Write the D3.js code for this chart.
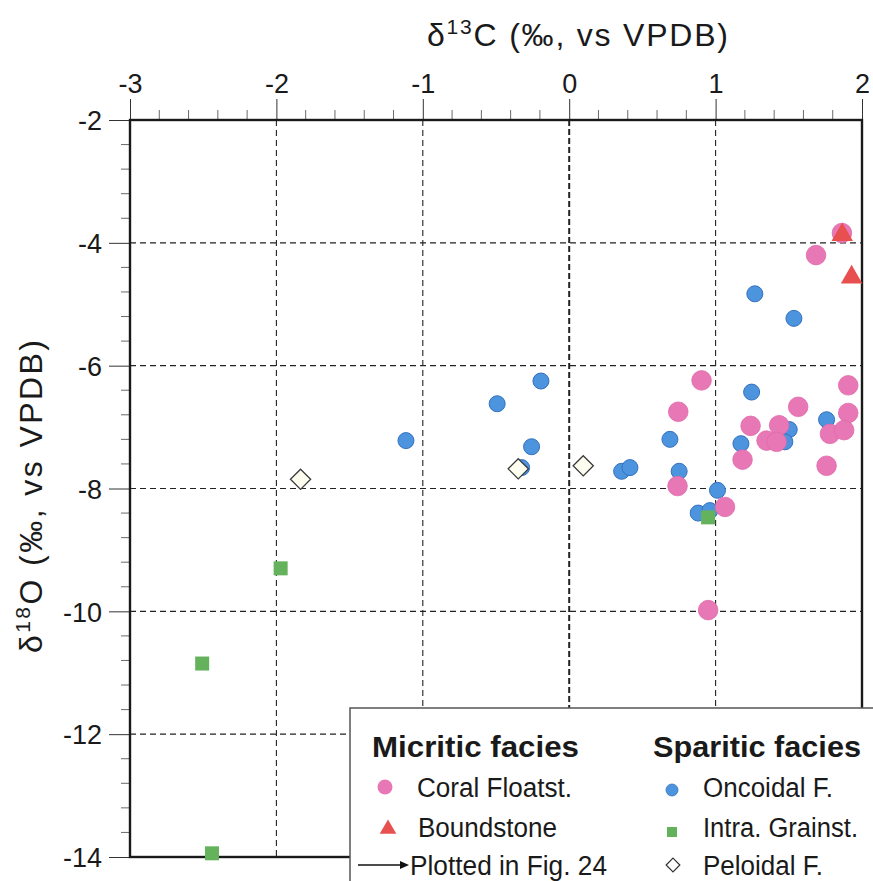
<!DOCTYPE html>
<html><head><meta charset="utf-8">
<script src="https://cdn.jsdelivr.net/npm/d3@7"></script>
<style>body{margin:0;background:#fff}svg{display:block}text{font-family:"Liberation Sans",Arial,sans-serif;fill:#1a1a1a}</style>
</head><body>
<script>
// ---- data (δ13C, δ18O) ----
const coralFloatst = [[1.863,-3.84],[1.686,-4.20],[0.904,-6.24],[0.745,-6.75],[1.906,-6.32],[1.564,-6.67],[1.906,-6.77],[1.239,-6.98],[1.434,-6.97],[1.348,-7.22],[1.417,-7.24],[1.781,-7.11],[1.878,-7.05],[1.184,-7.53],[1.758,-7.63],[0.740,-7.96],[1.064,-8.30],[0.949,-9.98]];
const boundstone = [[1.865,-3.87],[1.929,-4.56]];
const oncoidalF = [[1.268,-4.83],[1.535,-5.23],[1.246,-6.43],[1.758,-6.88],[1.503,-7.04],[1.473,-7.24],[1.173,-7.27],[0.688,-7.20],[0.358,-7.72],[0.415,-7.66],[0.751,-7.72],[1.013,-8.03],[0.881,-8.40],[0.961,-8.36],[-0.193,-6.25],[-0.492,-6.62],[-1.115,-7.22],[-0.257,-7.32],[-0.325,-7.66]];
const intraGrainst = [[-1.971,-9.30],[-2.507,-10.85],[-2.44,-13.94],[0.949,-8.47]];
const peloidalF = [[-1.835,-7.85],[-0.348,-7.68],[0.096,-7.63]];
const xTicks = [-3,-2,-1,0,1,2];
const yTicks = [-2,-4,-6,-8,-10,-12,-14];
const xGrid = [-2,-1,0,1];
const yGrid = [-4,-6,-8,-10,-12];

const W=873,H=881;
const svg=d3.select("body").append("svg").attr("width",W).attr("height",H);
const x=d3.scaleLinear().domain([-3,2]).range([130,862]);
const y=d3.scaleLinear().domain([-2,-14]).range([120,857]);

// grid
svg.append("g").selectAll("line").data(xGrid).join("line")
 .attr("x1",d=>x(d)).attr("x2",d=>x(d)).attr("y1",y(-2)).attr("y2",y(-14))
 .attr("stroke","#222").attr("stroke-width",d=>d===0?2:1.1).attr("stroke-dasharray",d=>d===0?"6,3":"6,4");
svg.append("g").selectAll("line").data(yGrid).join("line")
 .attr("y1",d=>y(d)).attr("y2",d=>y(d)).attr("x1",x(-3)).attr("x2",x(2))
 .attr("stroke","#222").attr("stroke-width",1.1).attr("stroke-dasharray","6,4");

// axes
const fmt=d=>String(d);
const xAxis=d3.axisTop(x).tickValues(xTicks).tickSize(21).tickPadding(6).tickFormat(fmt);
const gx=svg.append("g").attr("transform",`translate(0,${y(-2)})`).call(xAxis);
const xMinor=d3.range(-3,2.001,0.2).filter(v=>Math.abs(v-Math.round(v))>1e-6);
gx.selectAll(".minor").data(xMinor).join("line").attr("class","minor")
 .attr("x1",d=>x(d)).attr("x2",d=>x(d)).attr("y1",0).attr("y2",-10).attr("stroke","#444").attr("stroke-width",0.8);
const yAxis=d3.axisLeft(y).tickValues(yTicks).tickSize(21).tickPadding(7).tickFormat(fmt);
const gy=svg.append("g").attr("transform",`translate(${x(-3)},0)`).call(yAxis);
const yMinor=d3.range(-2,-14.001,-0.4).filter(v=>Math.abs(v/2-Math.round(v/2))>1e-6);
gy.selectAll(".minor").data(yMinor).join("line").attr("class","minor")
 .attr("y1",d=>y(d)).attr("y2",d=>y(d)).attr("x1",0).attr("x2",-9).attr("stroke","#444").attr("stroke-width",0.8);
[gx,gy].forEach(g=>{g.select(".domain").remove();g.selectAll(".tick line").attr("stroke","#333").attr("stroke-width",1);
 g.selectAll(".tick text").attr("font-size",27).attr("font-family","'Liberation Sans',Arial,sans-serif").attr("fill","#1a1a1a");});
gx.selectAll(".tick text").attr("dy","0");
gy.selectAll(".tick text").attr("dy","0.36em");

// frame
svg.append("rect").attr("x",x(-3)).attr("y",y(-2)).attr("width",x(2)-x(-3)).attr("height",y(-14)-y(-2))
 .attr("fill","none").attr("stroke","#1a1a1a").attr("stroke-width",2.4);

// titles
const t1=svg.append("text").attr("x",427).attr("y",46).attr("font-size",32).attr("textLength",301).attr("lengthAdjust","spacing");
t1.append("tspan").text("δ");t1.append("tspan").attr("font-size",21).attr("dy",-12).text("13");
t1.append("tspan").attr("dy",12).text("C (‰, vs VPDB)");
const t2=svg.append("text").attr("transform","translate(42,653) rotate(-90)").attr("font-size",32).attr("textLength",313).attr("lengthAdjust","spacing");
t2.append("tspan").text("δ");t2.append("tspan").attr("font-size",21).attr("dy",-12).text("18");
t2.append("tspan").attr("dy",12).text("O (‰, vs VPDB)");

// markers
const pts=svg.append("g");
pts.selectAll(".onc").data(oncoidalF).join("circle").attr("class","onc")
 .attr("cx",d=>x(d[0])).attr("cy",d=>y(d[1])).attr("r",8).attr("fill","#4d94de").attr("stroke","#3470bd").attr("stroke-width",1);
pts.selectAll(".cor").data(coralFloatst).join("circle").attr("class","cor")
 .attr("cx",d=>x(d[0])).attr("cy",d=>y(d[1])).attr("r",9.8).attr("fill","#e877b5").attr("stroke","#e06aab").attr("stroke-width",0.8);
pts.selectAll(".grn").data(intraGrainst).join("rect").attr("class","grn")
 .attr("x",d=>x(d[0])-7).attr("y",d=>y(d[1])-7).attr("width",14).attr("height",14).attr("fill","#64b35c");
pts.selectAll(".pel").data(peloidalF).join("path").attr("class","pel")
 .attr("d",d3.symbol(d3.symbolDiamond2,260)).attr("transform",d=>`translate(${x(d[0])},${y(d[1])})`)
 .attr("fill","#fdfdf0").attr("stroke","#3a3a3a").attr("stroke-width",1.3);
pts.selectAll(".bnd").data(boundstone).join("path").attr("class","bnd")
 .attr("d",d3.symbol(d3.symbolTriangle,200)).attr("transform",d=>`translate(${x(d[0])},${y(d[1])})`)
 .attr("fill","#e85050");

// legend
const lg=svg.append("g");
lg.append("rect").attr("x",350).attr("y",708).attr("width",540).attr("height",200).attr("fill","#fff").attr("stroke","#555").attr("stroke-width",1.5);
lg.append("text").attr("x",372).attr("y",757).attr("font-size",30).attr("font-weight","bold").attr("textLength",207).attr("lengthAdjust","spacingAndGlyphs").text("Micritic facies");
lg.append("text").attr("x",653).attr("y",757).attr("font-size",30).attr("font-weight","bold").attr("textLength",208).attr("lengthAdjust","spacingAndGlyphs").text("Sparitic facies");
const items=[
 {tx:417,ty:797,w:155,label:"Coral Floatst."},
 {tx:418,ty:837,w:139,label:"Boundstone"},
 {tx:410,ty:875,w:197,label:"Plotted in Fig. 24"},
 {tx:703,ty:797,w:130,label:"Oncoidal F."},
 {tx:703,ty:837,w:155,label:"Intra. Grainst."},
 {tx:703,ty:875,w:120,label:"Peloidal F."}];
lg.selectAll(".lt").data(items).join("text").attr("class","lt").attr("x",d=>d.tx).attr("y",d=>d.ty)
 .attr("font-size",27).attr("textLength",d=>d.w).attr("lengthAdjust","spacingAndGlyphs").text(d=>d.label);
lg.append("circle").attr("cx",385).attr("cy",787).attr("r",7.5).attr("fill","#e877b5");
lg.append("path").attr("d",d3.symbol(d3.symbolTriangle,120)).attr("transform","translate(388,829)").attr("fill","#e85050");
lg.append("line").attr("x1",358).attr("x2",402).attr("y1",865).attr("y2",865).attr("stroke","#111").attr("stroke-width",1.5);
lg.append("path").attr("d","M400,861 L409,865 L400,869 Z").attr("fill","#111");
lg.append("circle").attr("cx",672).attr("cy",790).attr("r",6).attr("fill","#4d94de").attr("stroke","#3470bd").attr("stroke-width",0.8);
lg.append("rect").attr("x",667).attr("y",827).attr("width",10).attr("height",10).attr("fill","#64b35c");
lg.append("path").attr("d",d3.symbol(d3.symbolDiamond2,120)).attr("transform","translate(673,865)").attr("fill","#fff").attr("stroke","#333").attr("stroke-width",1.2);
</script>
</body></html>
